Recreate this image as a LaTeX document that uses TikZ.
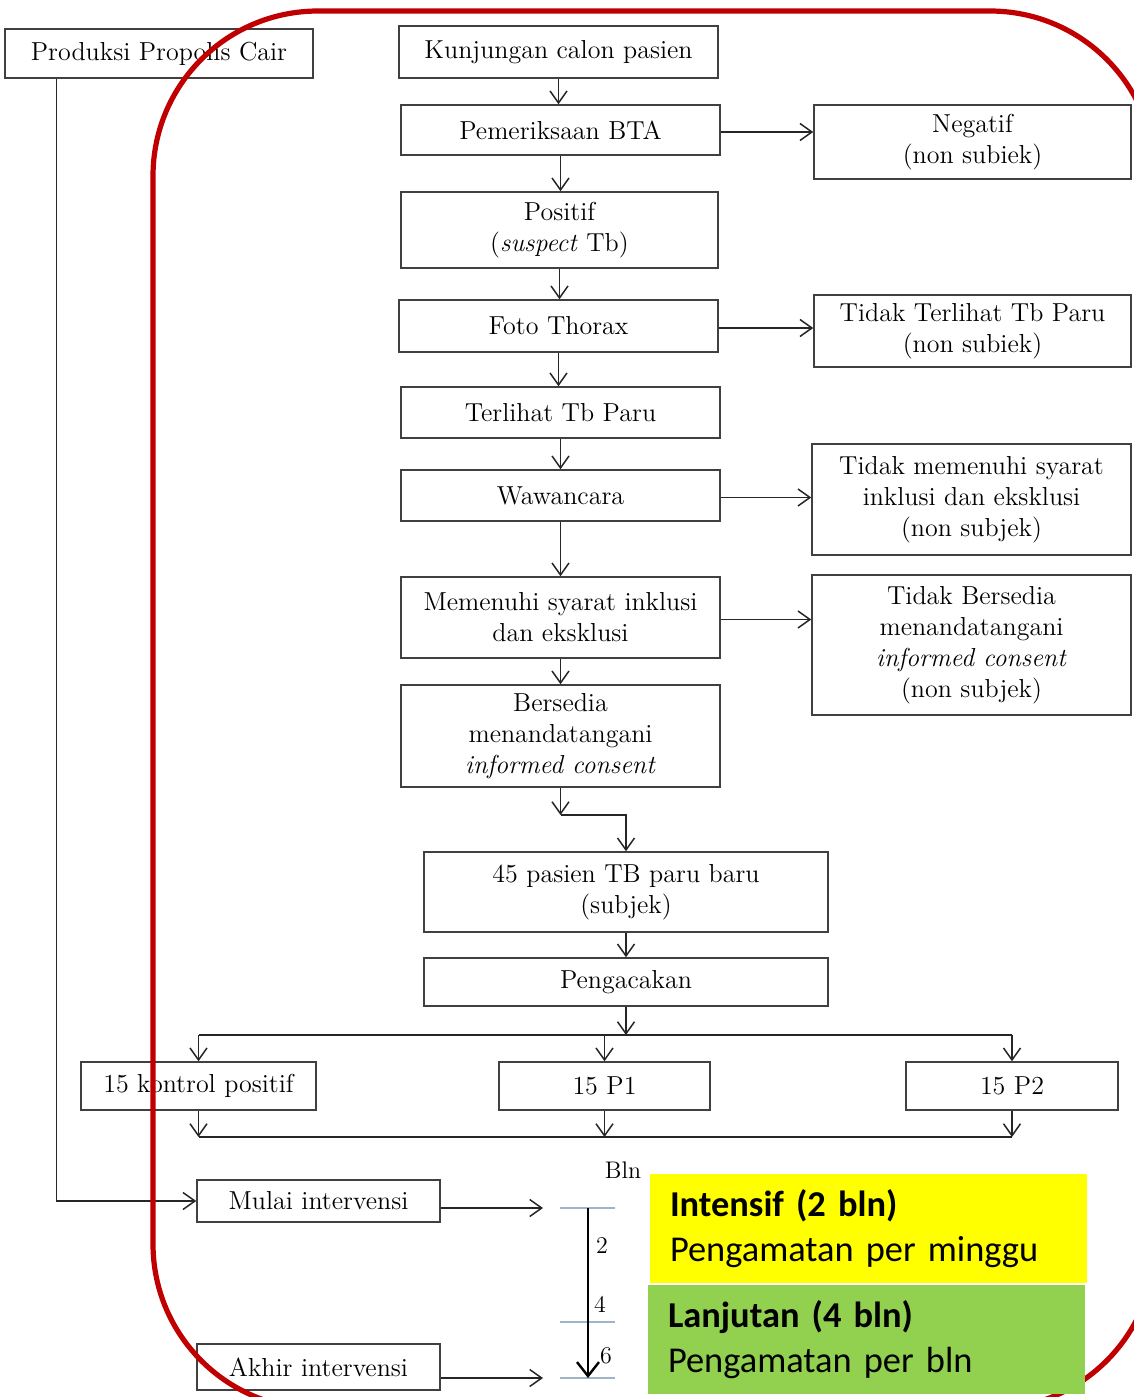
\documentclass[tikz,border=0pt]{standalone}
\usepackage{fontspec}
\newfontfamily\calibri{Carlito}
\usetikzlibrary{arrows.meta}

\definecolor{frameRed}{HTML}{C00000}
\definecolor{tickBlue}{HTML}{9FB3CB}
\definecolor{phaseYellow}{HTML}{FFFF00}
\definecolor{phaseGreen}{HTML}{92D050}

\tikzset{
  box/.style={draw=black!75, line width=0.75pt, fill=white, align=center,
    inner sep=2pt, font=\fontsize{13}{15.5}\selectfont},
  wh/.style 2 args={minimum width=#1*0.5pt, minimum height=#2*0.5pt},
  arr/.style={-{Straight Barb[length=6pt,width=8.5pt]}, line width=0.75pt, black!85},
  line/.style={line width=0.75pt, black!85},
  tick/.style={tickBlue, line width=1.4pt},
  tlArr/.style={-{Straight Barb[length=7pt,width=11pt,line width=1.2pt]}, line width=1.2pt},
  small/.style={inner sep=0pt, font=\fontsize{12}{14}\selectfont},
  phase/.style={fill=#1, draw=none, align=left, inner sep=0pt,
    font=\calibri\fontsize{18.2}{22.5}\selectfont},
}

\begin{document}
\begin{tikzpicture}[x=0.5pt, y=-0.5pt]

    % ---- Page (pixel grid, y downwards) ----
    \useasboundingbox (0,0) rectangle (1134,1397);
    \clip (0,0) rectangle (1134,1397);

    % ---- Screening flow ----
    \node[box, wh={319}{52}] (kunj) at (558.5,52) {Kunjungan calon pasien};
    \node[box, wh={319}{50}] (btA) at (560.5,130) {Pemeriksaan BTA};
    \node[box, wh={317}{74}] (neg) at (972.5,142) {Negatif\\(non subiek)};
    \node[box, wh={317}{76}] (pos) at (559.5,230) {Positif\\(\textit{suspect} Tb)};
    \node[box, wh={319}{52}] (foto) at (558.5,326) {Foto Thorax};
    \node[box, wh={317}{72}] (noTb) at (972.5,331) {Tidak Terlihat Tb Paru\\(non subiek)};
    \node[box, wh={319}{51}] (tbParu) at (560.5,412.5) {Terlihat Tb Paru};
    \node[box, wh={319}{51}] (wawan) at (560.5,495.5) {Wawancara};
    \node[box, wh={319}{111}] (noSyarat) at (971.5,499.5)
        {Tidak memenuhi syarat\\inklusi dan eksklusi\\(non subjek)};
    \node[box, wh={319}{81}] (syarat) at (560.5,617.5) {Memenuhi syarat inklusi\\dan eksklusi};
    \node[box, wh={319}{140}] (noSedia) at (971.5,645)
        {Tidak Bersedia\\menandatangani\\\textit{informed consent}\\(non subjek)};
    \node[box, wh={319}{102}] (sedia) at (560.5,736)
        {Bersedia\\menandatangani\\\textit{informed consent}};
    \node[box, wh={404}{80}] (subj) at (626,892) {45 pasien TB paru baru\\(subjek)};
    \node[box, wh={404}{48}] (acak) at (626,982) {Pengacakan};

    % ---- Groups ----
    \node[box, wh={235}{48}] (kontrol) at (198.5,1086) {15 kontrol positif};
    \node[box, wh={211}{48}] (pSatu) at (604.5,1086) {15 P1};
    \node[box, wh={212}{48}] (pDua) at (1012,1086) {15 P2};

    % ---- Intervention ----
    \node[box, wh={308}{49}] (prod) at (159,53.5) {Produksi Propolis Cair};
    \node[box, wh={243}{42}] (mulai) at (318.5,1201) {Mulai intervensi};
    \node[box, wh={243}{46}] (akhir) at (318.5,1367) {Akhir intervensi};

    % ---- Vertical steps ----
    \foreach \a/\b in {kunj/btA, btA/pos, pos/foto, foto/tbParu, tbParu/wawan,
                       wawan/syarat, syarat/sedia, subj/acak}
        \draw[arr] (\a.south) -- (\a.south |- \b.north);

    % ---- Drop-outs ----
    \foreach \a/\b in {btA/neg, foto/noTb, wawan/noSyarat, syarat/noSedia}
        \draw[arr] ([yshift=-1pt]\a.east) -- ([yshift=-1pt]\a.east -| \b.west);

    % ---- Consent to subjects (elbow) ----
    \coordinate (elbow) at (563,815);
    \draw[arr] (sedia.south) -- (sedia.south |- elbow);
    \draw[arr] (sedia.south |- elbow) -| (subj.north);

    % ---- Randomisation split ----
    \coordinate (split) at (626,1035);
    \draw[arr] (acak.south) -- (acak.south |- split);
    \draw[line] (kontrol.north |- split) -- (pDua.north |- split);
    \foreach \g in {kontrol, pSatu, pDua}
        \draw[arr] (\g.north |- split) -- (\g.north);

    % ---- Groups join ----
    \coordinate (join) at (626,1137);
    \foreach \g in {kontrol, pSatu, pDua}
        \draw[arr] (\g.south) -- (\g.south |- join);
    \draw[line] (kontrol.south |- join) -- (pDua.south |- join);

    % ---- Propolis supply ----
    \draw[arr] ([xshift=26pt]prod.south west) |- (mulai.west);

    % ---- Timeline (months) ----
    \coordinate (tTop) at (588,1208);
    \coordinate (tMid) at (588,1322);
    \coordinate (tEnd) at (588,1378);
    \foreach \c in {tTop, tMid, tEnd}
        \draw[tick] ([xshift=-14pt]\c) -- ([xshift=13.5pt]\c);
    \draw[tlArr] (tTop) -- (tEnd);
    \node[small] (bln) at (623,1170) {Bln};
    \node[small] (mTwo) at (602,1246) {2};
    \node[small] (mFour) at (600,1304) {4};
    \node[small] (mSix) at (606,1356) {6};

    \draw[arr] (mulai.east |- tTop) -- ([xshift=-22.5pt]tTop);
    \draw[arr] (akhir.east |- tEnd) -- ([xshift=-22.5pt]tEnd);

    % ---- Red frame ----
    \draw[frameRed, line width=2.6pt, rounded corners=82.5pt] (153,11) rectangle (1155,1409);

    % ---- Phases ----
    \node[phase=phaseYellow, wh={437}{109}, text width=198.5pt] (intens) at (868.5,1228.5)
        {\textbf{Intensif (2 bln)}\\Pengamatan per minggu};
    \node[phase=phaseGreen, wh={437}{109}, text width=198.5pt] (lanjut) at (866.5,1339.5)
        {\textbf{Lanjutan (4 bln)}\\Pengamatan per bln};

\end{tikzpicture}
\end{document}
